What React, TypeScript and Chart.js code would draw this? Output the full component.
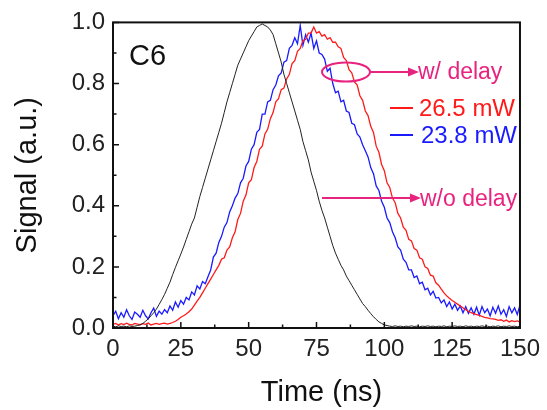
import React, { useEffect, useRef } from "react";
import { Chart, registerables } from "chart.js";

Chart.register(...registerables);

// Time axis (ns)
const timeNs = [
  0, 1, 2, 3, 4, 5, 6, 7, 8, 9, 10, 11, 12, 13, 14, 15, 16, 17, 18, 19,
  20, 21, 22, 23, 24, 25, 26, 27, 28, 29, 30, 31, 32, 33, 34, 35, 36, 37, 38, 39,
  40, 41, 42, 43, 44, 45, 46, 47, 48, 49, 50, 51, 52, 53, 54, 55, 56, 57, 58, 59,
  60, 61, 62, 63, 64, 65, 66, 67, 68, 69, 70, 71, 72, 73, 74, 75, 76, 77, 78, 79,
  80, 81, 82, 83, 84, 85, 86, 87, 88, 89, 90, 91, 92, 93, 94, 95, 96, 97, 98, 99,
  100, 101, 102, 103, 104, 105, 106, 107, 108, 109, 110, 111, 112, 113, 114, 115, 116, 117, 118, 119,
  120, 121, 122, 123, 124, 125, 126, 127, 128, 129, 130, 131, 132, 133, 134, 135, 136, 137, 138, 139,
  140, 141, 142, 143, 144, 145, 146, 147, 148, 149, 150,
];

// w/o delay (black)
const signalNoDelay = [
  0.006, 0.004, 0.007, 0.005, 0.006, 0.004, 0.007, 0.005, 0.006, 0.008,
  0.01, 0.015, 0.022, 0.03, 0.04, 0.05, 0.062, 0.077, 0.093, 0.11,
  0.13, 0.15, 0.175, 0.198, 0.22, 0.242, 0.265, 0.29, 0.315, 0.34,
  0.36, 0.395, 0.43, 0.46, 0.49, 0.52, 0.55, 0.58, 0.61, 0.64,
  0.67, 0.705, 0.74, 0.77, 0.8, 0.83, 0.86, 0.88, 0.9, 0.92,
  0.94, 0.955, 0.97, 0.985, 0.99, 0.995, 0.99, 0.985, 0.975, 0.96,
  0.93, 0.9, 0.87, 0.83, 0.8, 0.77, 0.74, 0.71, 0.68, 0.65,
  0.61, 0.58, 0.55, 0.51, 0.48, 0.45, 0.415, 0.385, 0.36, 0.33,
  0.3, 0.27, 0.245, 0.225, 0.205, 0.19, 0.17, 0.155, 0.14, 0.125,
  0.11, 0.095, 0.08, 0.07, 0.058, 0.047, 0.037, 0.028, 0.02, 0.015,
  0.01, 0.008, 0.006, 0.005, 0.007, 0.005, 0.006, 0.004, 0.006, 0.005,
  0.007, 0.005, 0.006, 0.004, 0.006, 0.005, 0.007, 0.005, 0.006, 0.004,
  0.006, 0.005, 0.007, 0.004, 0.006, 0.005, 0.007, 0.005, 0.006, 0.004,
  0.007, 0.005, 0.006, 0.004, 0.006, 0.005, 0.007, 0.005, 0.006, 0.004,
  0.006, 0.005, 0.007, 0.004, 0.006, 0.005, 0.007, 0.005, 0.006, 0.004, 0.006,
];

// 26.5 mW (red)
const signal265 = [
  0.012, 0.015, 0.01, 0.014, 0.011, 0.016, 0.012, 0.01, 0.015, 0.013,
  0.011, 0.014, 0.012, 0.016, 0.01, 0.013, 0.015, 0.012, 0.014, 0.016,
  0.013, 0.015, 0.018, 0.022, 0.028, 0.035, 0.04, 0.046, 0.053, 0.062,
  0.075, 0.088, 0.1, 0.115, 0.13, 0.145, 0.16, 0.175, 0.19, 0.205,
  0.225, 0.23, 0.255, 0.265, 0.295, 0.315, 0.355, 0.375, 0.415, 0.435,
  0.475, 0.485, 0.525, 0.545, 0.585, 0.595, 0.635, 0.65, 0.685, 0.705,
  0.74, 0.75, 0.78, 0.785, 0.815, 0.83, 0.865, 0.875, 0.905, 0.915,
  0.94, 0.945, 0.965, 0.965, 0.985, 0.965, 0.97, 0.955, 0.96, 0.945,
  0.95, 0.935, 0.935, 0.92, 0.915, 0.885, 0.875, 0.845, 0.835, 0.805,
  0.795, 0.76, 0.745, 0.71, 0.695, 0.66, 0.64, 0.595, 0.575, 0.535,
  0.515, 0.475, 0.46, 0.425, 0.41, 0.375, 0.36, 0.33, 0.32, 0.29,
  0.285, 0.26, 0.255, 0.23, 0.225, 0.2, 0.195, 0.173, 0.17, 0.148,
  0.14, 0.127, 0.115, 0.105, 0.097, 0.09, 0.084, 0.078, 0.072, 0.066,
  0.06, 0.055, 0.05, 0.047, 0.044, 0.041, 0.038, 0.035, 0.033, 0.031,
  0.03, 0.028, 0.025, 0.027, 0.022, 0.026, 0.02, 0.024, 0.021, 0.023, 0.02,
];

// 23.8 mW (blue)
const signal238 = [
  0.04, 0.055, 0.03, 0.05, 0.035, 0.06, 0.04, 0.028, 0.052, 0.045,
  0.035, 0.058, 0.04, 0.03, 0.05, 0.065, 0.038, 0.055, 0.045, 0.06,
  0.05, 0.072, 0.058, 0.085, 0.068, 0.09, 0.078, 0.1, 0.092, 0.118,
  0.108, 0.138, 0.128, 0.152, 0.145, 0.168, 0.19, 0.232, 0.245, 0.28,
  0.3, 0.33, 0.345, 0.38, 0.4, 0.425, 0.44, 0.475, 0.49, 0.53,
  0.545, 0.585, 0.6, 0.64, 0.65, 0.7, 0.7, 0.74, 0.745, 0.78,
  0.795, 0.825, 0.835, 0.87, 0.875, 0.915, 0.925, 0.95, 0.93, 0.99,
  0.925, 0.96, 0.935, 0.965, 0.915, 0.94, 0.9, 0.895, 0.88, 0.84,
  0.85, 0.8, 0.77, 0.775, 0.74, 0.745, 0.71, 0.705, 0.67, 0.665,
  0.635, 0.625, 0.6, 0.58, 0.56, 0.525, 0.505, 0.465, 0.45, 0.415,
  0.395, 0.36, 0.345, 0.315, 0.295, 0.265, 0.255, 0.225, 0.215, 0.19,
  0.19, 0.165, 0.17, 0.145, 0.15, 0.125, 0.13, 0.108, 0.12, 0.098,
  0.1, 0.082, 0.092, 0.07, 0.085, 0.062, 0.078, 0.058, 0.072, 0.05,
  0.07, 0.048, 0.066, 0.045, 0.068, 0.042, 0.07, 0.05, 0.062, 0.04,
  0.068, 0.048, 0.072, 0.045, 0.06, 0.038, 0.07, 0.05, 0.066, 0.044, 0.075,
];

const xTicks = [0, 25, 50, 75, 100, 125, 150];
const yTicks = [0, 0.2, 0.4, 0.6, 0.8, 1.0];

const FONT = "'Liberation Sans', Arial, Helvetica, sans-serif";
const PINK = "#e8237f";

function arrowRight(ctx: CanvasRenderingContext2D, x1: number, x2: number, y: number) {
  ctx.beginPath();
  ctx.moveTo(x1, y);
  ctx.lineTo(x2 - 8, y);
  ctx.stroke();
  ctx.beginPath();
  ctx.moveTo(x2, y);
  ctx.lineTo(x2 - 11, y - 4.5);
  ctx.lineTo(x2 - 11, y + 4.5);
  ctx.closePath();
  ctx.fill();
}

const decorPlugin = {
  id: "decor",
  afterDraw(chart: any) {
    const { ctx, chartArea, scales } = chart;
    const { left, right, top, bottom } = chartArea;
    const xs = scales.x;
    const ys = scales.y;
    ctx.save();
    // frame
    ctx.strokeStyle = "#111";
    ctx.lineWidth = 2;
    ctx.strokeRect(left, top, right - left, bottom - top);
    // ticks
    ctx.lineWidth = 1.5;
    ctx.beginPath();
    for (let v = 0; v <= 150.001; v += 12.5) {
      const px = xs.getPixelForValue(v);
      const major = Math.abs(v / 25 - Math.round(v / 25)) < 1e-6;
      ctx.moveTo(px, bottom);
      ctx.lineTo(px, bottom - (major ? 6 : 3.5));
    }
    for (let v = 0; v <= 1.0001; v += 0.1) {
      const py = ys.getPixelForValue(v);
      const major = Math.abs(v / 0.2 - Math.round(v / 0.2)) < 1e-6;
      ctx.moveTo(left, py);
      ctx.lineTo(left + (major ? 6 : 3.5), py);
    }
    ctx.stroke();

    // axis titles
    ctx.fillStyle = "#111";
    ctx.font = `29px ${FONT}`;
    ctx.textAlign = "center";
    ctx.textBaseline = "middle";
    ctx.fillText("Time (ns)", (left + right) / 2 + 5, 393);
    ctx.save();
    ctx.translate(28, (top + bottom) / 2);
    ctx.rotate(-Math.PI / 2);
    ctx.fillText("Signal (a.u.)", 0, 0);
    ctx.restore();

    // C6 label
    ctx.textAlign = "left";
    ctx.textBaseline = "alphabetic";
    ctx.font = `29px ${FONT}`;
    ctx.fillStyle = "#111";
    ctx.fillText("C6", 129, 65);

    // w/ delay ellipse + arrow
    ctx.strokeStyle = PINK;
    ctx.fillStyle = PINK;
    ctx.lineWidth = 2;
    ctx.beginPath();
    ctx.ellipse(346, 72, 24, 9.5, 0, 0, Math.PI * 2);
    ctx.stroke();
    arrowRight(ctx, 370, 419, 72);
    ctx.font = `23px ${FONT}`;
    ctx.fillText("w/ delay", 418, 79);

    // w/o delay arrow
    arrowRight(ctx, 322, 421, 198);
    ctx.fillText("w/o delay", 420, 206);

    // legend
    ctx.lineWidth = 2;
    ctx.strokeStyle = "#ff1a1a";
    ctx.beginPath();
    ctx.moveTo(390, 108);
    ctx.lineTo(413, 108);
    ctx.stroke();
    ctx.fillStyle = "#ff1a1a";
    ctx.font = `24px ${FONT}`;
    ctx.fillText("26.5 mW", 419, 116);
    ctx.strokeStyle = "#1a1aff";
    ctx.beginPath();
    ctx.moveTo(390, 135);
    ctx.lineTo(413, 135);
    ctx.stroke();
    ctx.fillStyle = "#1a1aff";
    ctx.fillText("23.8 mW", 421, 143);
    ctx.restore();
  },
};

export default function App() {
  const canvasRef = useRef<HTMLCanvasElement | null>(null);

  useEffect(() => {
    const canvas = canvasRef.current;
    if (!canvas) return;
    const toPoints = (ys: number[]) => timeNs.map((t, i) => ({ x: t, y: ys[i] }));
    const chart = new Chart(canvas, {
      type: "line",
      data: {
        datasets: [
          {
            label: "w/o delay",
            data: toPoints(signalNoDelay),
            borderColor: "#222222",
            borderWidth: 1,
            pointRadius: 0,
            tension: 0,
          },
          {
            label: "26.5 mW",
            data: toPoints(signal265),
            borderColor: "#ff1a1a",
            borderWidth: 1.3,
            pointRadius: 0,
            tension: 0,
          },
          {
            label: "23.8 mW",
            data: toPoints(signal238),
            borderColor: "#1a1aff",
            borderWidth: 1.3,
            pointRadius: 0,
            tension: 0,
          },
        ],
      },
      options: {
        animation: false,
        responsive: false,
        devicePixelRatio: 1,
        layout: { padding: { top: 22, right: 20, left: 0, bottom: 0 } },
        plugins: {
          legend: { display: false },
          tooltip: { enabled: false },
        },
        scales: {
          x: {
            type: "linear",
            min: 0,
            max: 150,
            afterBuildTicks: (s: any) => {
              s.ticks = xTicks.map((v) => ({ value: v }));
            },
            afterFit: (s: any) => {
              s.height = 82;
            },
            ticks: {
              autoSkip: false,
              maxRotation: 0,
              padding: 7,
              color: "#222",
              font: { size: 24, family: FONT },
            },
            grid: { display: false, drawTicks: false },
            border: { display: false },
          },
          y: {
            type: "linear",
            min: 0,
            max: 1,
            afterBuildTicks: (s: any) => {
              s.ticks = yTicks.map((v) => ({ value: v }));
            },
            afterFit: (s: any) => {
              s.width = 113;
            },
            ticks: {
              autoSkip: false,
              padding: 8,
              color: "#222",
              font: { size: 24, family: FONT },
              callback: (v: any) => Number(v).toFixed(1),
            },
            grid: { display: false, drawTicks: false },
            border: { display: false },
          },
        },
      },
      plugins: [decorPlugin],
    });
    return () => chart.destroy();
  }, []);

  return (
    <div style={{ position: "fixed", left: 0, top: 0, width: 547, height: 410, background: "#fff" }}>
      <canvas ref={canvasRef} width={547} height={410} />
    </div>
  );
}
